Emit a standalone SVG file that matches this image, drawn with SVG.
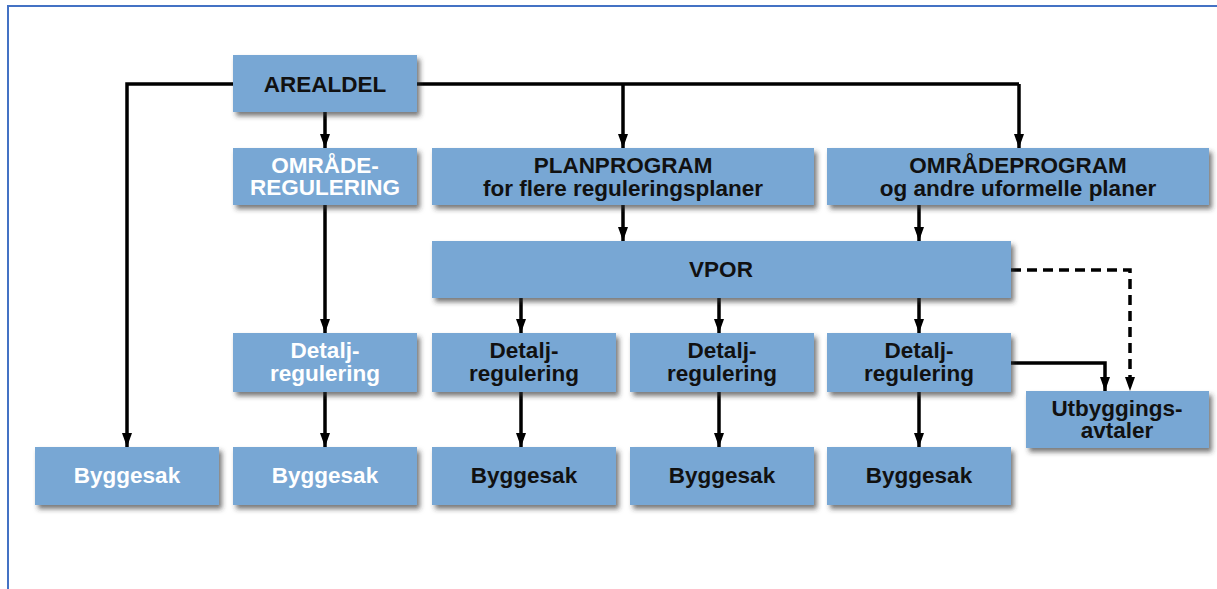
<svg xmlns="http://www.w3.org/2000/svg" width="1217" height="589" viewBox="0 0 1217 589">
<style>
.box{fill:#78a7d4;filter:url(#sh)}
.t{font-family:"Liberation Sans",Arial,sans-serif;font-weight:bold;font-size:22.5px;text-anchor:middle}
.w{fill:#ffffff}
.k{fill:#111111}
.ln{fill:none;stroke:#000;stroke-width:3.5}
.ar{fill:none;stroke:#000;stroke-width:3.5;marker-end:url(#ah)}
.da{fill:none;stroke:#000;stroke-width:3.5;stroke-dasharray:10 6;marker-end:url(#ah)}
</style>
<defs>
<filter id="sh" x="-10%" y="-20%" width="125%" height="150%">
<feDropShadow dx="3" dy="4" stdDeviation="2.5" flood-color="#333" flood-opacity="0.65"/>
</filter>
<marker id="ah" viewBox="0 0 14 10" refX="14" refY="5" markerWidth="14" markerHeight="10" markerUnits="userSpaceOnUse" orient="auto">
<path d="M0,0 L14,5 L0,10 Z" fill="#000"/>
</marker>
</defs>
<rect width="1217" height="589" fill="#fff"/>
<path d="M8,589 V6 H1217" fill="none" stroke="#4472c4" stroke-width="2"/>
<g id="connectors">
<path class="ar" d="M233,84 H127 V447"/>
<path class="ln" d="M417,84 H1019"/>
<path class="ar" d="M1019,84 V148"/>
<path class="ar" d="M623,84 V148"/>
<path class="ar" d="M325,112 V148"/>
<path class="ar" d="M325,205 V333"/>
<path class="ar" d="M325,392 V447"/>
<path class="ar" d="M623,205 V241"/>
<path class="ar" d="M919,205 V241"/>
<path class="ar" d="M521,298 V333"/>
<path class="ar" d="M719,298 V333"/>
<path class="ar" d="M919,298 V333"/>
<path class="ar" d="M521,392 V447"/>
<path class="ar" d="M719,392 V447"/>
<path class="ar" d="M919,392 V447"/>
<path class="ar" d="M1011,363 H1105 V391"/>
<path class="da" d="M1011,270 H1130 V391"/>
</g>
<g id="arealdel"><rect class="box" x="233" y="55" width="184" height="57"/><text class="t k" x="325" y="92">AREALDEL</text></g>
<g id="omraderegulering"><rect class="box" x="233" y="148" width="184" height="57"/><text class="t w" x="325" y="173">OMRÅDE-</text><text class="t w" x="325" y="195">REGULERING</text></g>
<g id="planprogram"><rect class="box" x="432" y="148" width="382" height="57"/><text class="t k" x="623" y="173">PLANPROGRAM</text><text class="t k" x="623" y="196">for flere reguleringsplaner</text></g>
<g id="omradeprogram"><rect class="box" x="827" y="148" width="382" height="57"/><text class="t k" x="1018" y="173">OMRÅDEPROGRAM</text><text class="t k" x="1018" y="196">og andre uformelle planer</text></g>
<g id="vpor"><rect class="box" x="432" y="241" width="579" height="57"/><text class="t k" x="721" y="277">VPOR</text></g>
<g id="detalj1"><rect class="box" x="233" y="333" width="184" height="59"/><text class="t w" x="325" y="358">Detalj-</text><text class="t w" x="325" y="381">regulering</text></g>
<g id="detalj2"><rect class="box" x="432" y="333" width="184" height="59"/><text class="t k" x="524" y="358">Detalj-</text><text class="t k" x="524" y="381">regulering</text></g>
<g id="detalj3"><rect class="box" x="630" y="333" width="184" height="59"/><text class="t k" x="722" y="358">Detalj-</text><text class="t k" x="722" y="381">regulering</text></g>
<g id="detalj4"><rect class="box" x="827" y="333" width="184" height="59"/><text class="t k" x="919" y="358">Detalj-</text><text class="t k" x="919" y="381">regulering</text></g>
<g id="utbygging"><rect class="box" x="1026" y="391" width="183" height="57"/><text class="t k" x="1117" y="416">Utbyggings-</text><text class="t k" x="1117" y="438">avtaler</text></g>
<g id="byggesak1"><rect class="box" x="35" y="447" width="184" height="58"/><text class="t w" x="127" y="483">Byggesak</text></g>
<g id="byggesak2"><rect class="box" x="233" y="447" width="184" height="58"/><text class="t w" x="325" y="483">Byggesak</text></g>
<g id="byggesak3"><rect class="box" x="432" y="447" width="184" height="58"/><text class="t k" x="524" y="483">Byggesak</text></g>
<g id="byggesak4"><rect class="box" x="630" y="447" width="184" height="58"/><text class="t k" x="722" y="483">Byggesak</text></g>
<g id="byggesak5"><rect class="box" x="827" y="447" width="184" height="58"/><text class="t k" x="919" y="483">Byggesak</text></g>
</svg>
